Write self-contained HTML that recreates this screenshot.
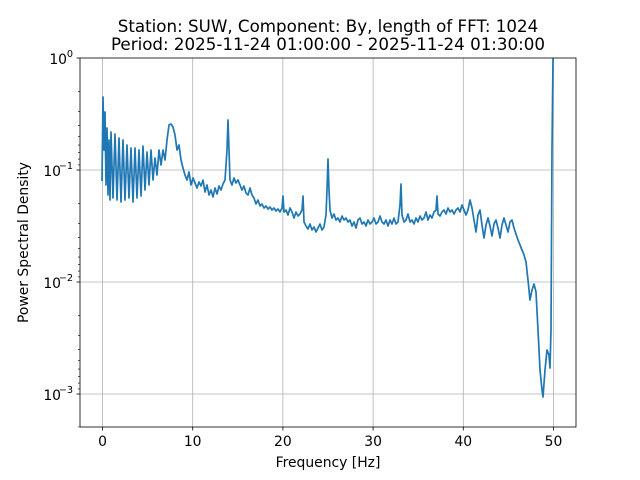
<!DOCTYPE html>
<html><head><meta charset="utf-8"><style>body{margin:0;background:#fff}svg{display:block}text{font-family:"DejaVu Sans","Liberation Sans",sans-serif;fill:#000}</style></head><body>
<svg width="640" height="480" viewBox="0 0 640 480" xmlns="http://www.w3.org/2000/svg">
<rect width="640" height="480" fill="#fff"/>
<text x="328" y="32" font-size="16.7" text-anchor="middle">Station: SUW, Component: By, length of FFT: 1024</text>
<text x="328" y="50" font-size="16.7" text-anchor="middle">Period: 2025-11-24 01:00:00 - 2025-11-24 01:30:00</text>
<g stroke="#b0b0b0" stroke-width="0.8">
<line x1="102.5" y1="58" x2="102.5" y2="427"/><line x1="192.7" y1="58" x2="192.7" y2="427"/><line x1="282.9" y1="58" x2="282.9" y2="427"/><line x1="373.1" y1="58" x2="373.1" y2="427"/><line x1="463.3" y1="58" x2="463.3" y2="427"/><line x1="553.5" y1="58" x2="553.5" y2="427"/>
<line x1="80" y1="170" x2="576" y2="170"/><line x1="80" y1="282" x2="576" y2="282"/><line x1="80" y1="394" x2="576" y2="394"/>
</g>
<svg x="80" y="58" width="496" height="369" viewBox="80 58 496 369" overflow="hidden">
<polyline fill="none" stroke="#1f77b4" stroke-width="1.7" stroke-linejoin="round" points="102,181 103,97 104,150 105,112 106,185 107,128 108,195 109,140 110,200 111,132 113,198 115,134 117,200 119,138 121,202 123,140 125,200 127,145 129,198 131,148 133,202 135,148 137,198 139,150 141,196 143,146 145,190 147,152 149,185 151,150 153,180 155,158 157,175 159,150 161,165 163,150 165,160 167,140 169,125 171,124 173,127 175,135 177,150 179,145 181,160 183,168 185,175 187,180 189,172 191,185 193,178 195,183 197,188 199,182 201,186 203,180 205,192 207,185 209,195 211,190 213,197 215,188 217,194 219,186 221,190 223,184 225,180 227,150 228,120 229,150 230,180 232,185 234,178 236,183 238,180 240,185 242,190 244,186 246,193 248,195 250,188 252,195 254,198 256,204 258,200 260,206 262,204 264,208 266,206 268,209 270,207 272,210 274,208 276,211 278,209 280,212 282,208 283,196 284,212 286,210 288,215 290,208 292,212 294,218 296,212 298,216 300,214 302,210 303,196 304,222 306,226 308,229 310,224 312,230 314,227 316,232 318,228 320,224 322,230 324,227 326,215 327,190 328,159 329,190 330,210 332,218 334,214 336,220 338,218 340,222 342,216 344,220 346,218 348,222 350,220 352,226 354,222 356,228 358,220 360,218 362,224 364,222 366,226 368,220 370,224 372,222 374,218 376,224 378,222 380,216 382,222 384,224 386,220 388,226 390,220 392,224 394,218 396,224 398,222 400,205 401,184 402,215 404,222 406,220 408,214 410,222 412,220 414,224 416,218 418,222 420,216 422,220 424,218 426,212 428,220 430,215 432,218 434,212 436,210 437,196 438,214 440,216 442,212 444,210 446,214 448,208 450,212 452,210 454,214 456,210 458,208 460,212 462,205 464,210 466,215 468,210 470,200 472,208 474,220 476,232 478,215 480,210 482,225 484,238 486,225 488,218 490,226 492,236 494,224 496,220 498,228 500,238 502,225 504,218 506,225 508,232 510,222 512,220 514,228 516,234 518,240 520,245 522,250 524,255 526,262 528,280 530,300 532,290 534,284 536,292 538,330 540,370 542,390 543,397 545,370 547,350 549,355 550,368 551,330 552,150 553,60 554,50"/>
</svg>
<rect x="80" y="58" width="496" height="369" fill="none" stroke="#000" stroke-width="0.8"/>
<g stroke="#000" stroke-width="0.8">
<line x1="102.5" y1="427" x2="102.5" y2="430.5"/><line x1="192.7" y1="427" x2="192.7" y2="430.5"/><line x1="282.9" y1="427" x2="282.9" y2="430.5"/><line x1="373.1" y1="427" x2="373.1" y2="430.5"/><line x1="463.3" y1="427" x2="463.3" y2="430.5"/><line x1="553.5" y1="427" x2="553.5" y2="430.5"/>
<line x1="76.5" y1="58" x2="80" y2="58"/><line x1="76.5" y1="170" x2="80" y2="170"/><line x1="76.5" y1="282" x2="80" y2="282"/><line x1="76.5" y1="394" x2="80" y2="394"/>
</g>
<g stroke="#000" stroke-width="0.6">
<path d="M78 91.7H80M78 111.4H80M78 125.4H80M78 136.3H80M78 145.1H80M78 152.6H80M78 159.1H80M78 164.9H80M78 203.7H80M78 223.4H80M78 237.4H80M78 248.3H80M78 257.1H80M78 264.6H80M78 271.1H80M78 276.9H80M78 315.7H80M78 335.4H80M78 349.4H80M78 360.3H80M78 369.1H80M78 376.6H80M78 383.1H80M78 388.9H80M78 427H80"/>
</g>
<g font-size="13.9" text-anchor="middle">
<text x="102.5" y="446">0</text><text x="192.7" y="446">10</text><text x="282.9" y="446">20</text><text x="373.1" y="446">30</text><text x="463.3" y="446">40</text><text x="553.5" y="446">50</text>
</g>
<g font-size="13.9" text-anchor="end">
<text x="67" y="64">10</text><text x="73" y="57" font-size="9.7">0</text>
<text x="61" y="176">10</text><text x="73" y="169" font-size="9.7">−1</text>
<text x="61" y="288">10</text><text x="73" y="281" font-size="9.7">−2</text>
<text x="61" y="400">10</text><text x="73" y="393" font-size="9.7">−3</text>
</g>
<text x="328" y="467" font-size="13.9" text-anchor="middle">Frequency [Hz]</text>
<text transform="translate(28,242.5) rotate(-90)" font-size="13.9" text-anchor="middle">Power Spectral Density</text>
</svg>
</body></html>
